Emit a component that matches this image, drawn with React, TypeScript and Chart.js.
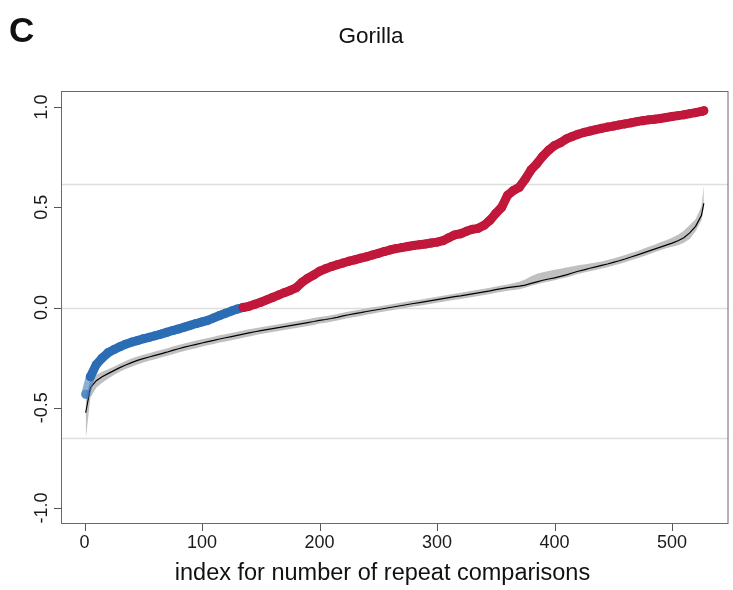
import { useEffect, useRef } from "react";
import { Chart, registerables } from "chart.js";

Chart.register(...registerables);

// Text
const panelLabel = "C";
const chartTitle = "Gorilla";
const xAxisTitle = "index for number of repeat comparisons";

// Axes
const xTickValues = [0, 100, 200, 300, 400, 500];
const yTickValues = [-1, -0.5, 0, 0.5, 1];
const xRange = [-20, 548];
const yRange = [-1.08, 1.08];

// Light horizontal reference levels
const referenceLevels = [0.617, 0, -0.652];

// Sorted comparison index (sampled every 5th comparison, plus first and last)
const repeatIndex = [1, ...Array.from({ length: 105 }, (_, i) => (i + 1) * 5), 527];

// Observed correlation for each comparison
const observed = [
  -0.433, -0.345, -0.285, -0.252, -0.226, -0.21, -0.196, -0.183, -0.173, -0.165,
  -0.156, -0.149, -0.141, -0.133, -0.124, -0.115, -0.107, -0.098, -0.089, -0.08,
  -0.072, -0.064, -0.052, -0.04, -0.029, -0.018, -0.008, 0.0, 0.006, 0.016,
  0.026, 0.038, 0.05, 0.062, 0.074, 0.085, 0.098, 0.125, 0.146, 0.162,
  0.181, 0.193, 0.204, 0.213, 0.222, 0.231, 0.238, 0.246, 0.253, 0.262,
  0.27, 0.279, 0.287, 0.294, 0.299, 0.304, 0.309, 0.313, 0.317, 0.322,
  0.326, 0.333, 0.348, 0.362, 0.368, 0.38, 0.39, 0.395, 0.41, 0.435,
  0.47, 0.5, 0.56, 0.584, 0.6, 0.64, 0.687, 0.718, 0.755, 0.785,
  0.808, 0.822, 0.841, 0.853, 0.864, 0.873, 0.88, 0.887, 0.894, 0.9,
  0.905, 0.911, 0.916, 0.921, 0.927, 0.932, 0.936, 0.939, 0.943, 0.948,
  0.953, 0.957, 0.961, 0.967, 0.972, 0.978, 0.982,
];

// Mean of the permuted (null) correlations
const nullMean = [
  -0.525, -0.4, -0.365, -0.345, -0.33, -0.315, -0.3, -0.287, -0.275, -0.264,
  -0.255, -0.247, -0.239, -0.231, -0.223, -0.214, -0.206, -0.198, -0.191, -0.184,
  -0.177, -0.17, -0.164, -0.157, -0.151, -0.145, -0.139, -0.133, -0.127, -0.121,
  -0.115, -0.11, -0.105, -0.1, -0.095, -0.09, -0.085, -0.08, -0.075, -0.07,
  -0.064, -0.06, -0.055, -0.049, -0.042, -0.036, -0.031, -0.026, -0.02, -0.015,
  -0.01, -0.005, 0.0, 0.005, 0.01, 0.015, 0.02, 0.024, 0.029, 0.034,
  0.039, 0.044, 0.049, 0.054, 0.058, 0.063, 0.068, 0.073, 0.078, 0.083,
  0.089, 0.094, 0.099, 0.103, 0.107, 0.112, 0.12, 0.128, 0.136, 0.142,
  0.148, 0.155, 0.163, 0.172, 0.181, 0.188, 0.196, 0.203, 0.21, 0.217,
  0.225, 0.233, 0.242, 0.252, 0.261, 0.271, 0.281, 0.291, 0.301, 0.311,
  0.321, 0.333, 0.348, 0.372, 0.405, 0.46, 0.52,
];

// Spread of the null distribution below and above its mean
const nullBelow = [
  0.135, 0.05, 0.035, 0.03, 0.025, 0.022, 0.02, 0.02, 0.02, 0.02,
  0.019, 0.019, 0.019, 0.019, 0.019, 0.019, 0.019, 0.019, 0.019, 0.019,
  0.018, 0.018, 0.018, 0.018, 0.018, 0.018, 0.018, 0.018, 0.018, 0.018,
  0.017, 0.017, 0.017, 0.017, 0.017, 0.017, 0.017, 0.017, 0.017, 0.017,
  0.016, 0.016, 0.016, 0.016, 0.016, 0.016, 0.016, 0.016, 0.016, 0.016,
  0.015, 0.015, 0.015, 0.015, 0.015, 0.015, 0.015, 0.015, 0.015, 0.015,
  0.015, 0.015, 0.015, 0.015, 0.015, 0.016, 0.016, 0.016, 0.016, 0.016,
  0.016, 0.016, 0.016, 0.016, 0.016, 0.014, 0.012, 0.012, 0.012, 0.012,
  0.012, 0.012, 0.013, 0.013, 0.014, 0.014, 0.015, 0.016, 0.016, 0.016,
  0.016, 0.016, 0.016, 0.016, 0.016, 0.016, 0.016, 0.016, 0.016, 0.016,
  0.018, 0.022, 0.025, 0.03, 0.025, 0.025, 0.025,
];
const nullAbove = [
  0.075, 0.04, 0.03, 0.025, 0.022, 0.02, 0.02, 0.02, 0.02, 0.02,
  0.019, 0.019, 0.019, 0.019, 0.019, 0.019, 0.019, 0.019, 0.019, 0.019,
  0.018, 0.018, 0.018, 0.018, 0.018, 0.018, 0.018, 0.018, 0.018, 0.018,
  0.017, 0.017, 0.017, 0.017, 0.017, 0.017, 0.017, 0.017, 0.017, 0.017,
  0.016, 0.016, 0.016, 0.016, 0.016, 0.016, 0.016, 0.016, 0.016, 0.016,
  0.015, 0.015, 0.015, 0.015, 0.015, 0.015, 0.015, 0.015, 0.015, 0.015,
  0.015, 0.015, 0.015, 0.015, 0.015, 0.016, 0.016, 0.016, 0.016, 0.016,
  0.016, 0.016, 0.016, 0.018, 0.022, 0.028, 0.036, 0.04, 0.04, 0.04,
  0.04, 0.038, 0.036, 0.033, 0.03, 0.027, 0.024, 0.022, 0.02, 0.02,
  0.02, 0.02, 0.02, 0.02, 0.02, 0.021, 0.022, 0.022, 0.024, 0.025,
  0.027, 0.03, 0.035, 0.04, 0.035, 0.045, 0.09,
];

const RED = "#C1173A";
const BLUE = "#2B6DB5";
const BLUE_SOFT = "rgba(43,109,181,0.55)";
const FONT = "'Liberation Sans', Arial, Helvetica, sans-serif";

const observedPoints = repeatIndex.map((x, i) => ({ x, y: observed[i] }));
const negativePoints = observedPoints.filter((p) => p.y <= 0);
const positivePoints = observedPoints.filter((p) => p.y >= 0);

// R-style frame, ticks, labels and reference lines
const basePlotDecor = {
  id: "basePlotDecor",
  beforeDatasetsDraw(chart: any) {
    const { ctx, chartArea: a, scales } = chart;
    ctx.save();
    ctx.strokeStyle = "#DEDEDE";
    ctx.lineWidth = 1.5;
    referenceLevels.forEach((v) => {
      const y = Math.round(scales.y.getPixelForValue(v)) + 0.5;
      ctx.beginPath();
      ctx.moveTo(a.left, y);
      ctx.lineTo(a.right, y);
      ctx.stroke();
    });
    ctx.restore();
  },
  afterDatasetsDraw(chart: any) {
    const { ctx, chartArea: a, scales } = chart;
    ctx.save();
    // frame
    ctx.strokeStyle = "#6A6A6A";
    ctx.lineWidth = 1;
    ctx.strokeRect(a.left + 0.5, a.top + 0.5, a.right - a.left - 1, a.bottom - a.top - 1);

    // tick marks
    ctx.strokeStyle = "#555";
    ctx.beginPath();
    xTickValues.forEach((v) => {
      const x = Math.round(scales.x.getPixelForValue(v)) + 0.5;
      ctx.moveTo(x, a.bottom);
      ctx.lineTo(x, a.bottom + 7);
    });
    yTickValues.forEach((v) => {
      const y = Math.round(scales.y.getPixelForValue(v)) + 0.5;
      ctx.moveTo(a.left, y);
      ctx.lineTo(a.left - 7, y);
    });
    ctx.stroke();

    ctx.fillStyle = "#1A1A1A";
    // x tick labels
    ctx.font = `18px ${FONT}`;
    ctx.textAlign = "center";
    ctx.textBaseline = "alphabetic";
    xTickValues.forEach((v) => {
      ctx.fillText(String(v), scales.x.getPixelForValue(v), 548);
    });
    // y tick labels, rotated
    yTickValues.forEach((v) => {
      ctx.save();
      ctx.translate(47, scales.y.getPixelForValue(v));
      ctx.rotate(-Math.PI / 2);
      ctx.fillText(v.toFixed(1), 0, 0);
      ctx.restore();
    });

    // axis title
    ctx.fillStyle = "#111";
    ctx.font = `23.5px ${FONT}`;
    ctx.fillText(xAxisTitle, 382.5, 580);

    // main title
    ctx.font = `22.5px ${FONT}`;
    ctx.fillText(chartTitle, 371, 43);

    // panel letter
    ctx.textAlign = "left";
    ctx.font = `bold 35px ${FONT}`;
    ctx.fillText(panelLabel, 9, 42);
    ctx.restore();
  },
};

export default function App() {
  const canvasRef = useRef<HTMLCanvasElement | null>(null);

  useEffect(() => {
    document.body.style.margin = "0";
    const canvas = canvasRef.current;
    if (!canvas) return;

    const chart = new Chart(canvas, {
      type: "line",
      data: {
        datasets: [
          {
            label: "null lower",
            data: repeatIndex.map((x, i) => ({ x, y: nullMean[i] - nullBelow[i] })),
            borderColor: "transparent",
            borderWidth: 0,
            pointRadius: 0,
            fill: false,
            order: 4,
          },
          {
            label: "null upper",
            data: repeatIndex.map((x, i) => ({ x, y: nullMean[i] + nullAbove[i] })),
            borderColor: "transparent",
            borderWidth: 0,
            pointRadius: 0,
            backgroundColor: "#C0C0C0",
            fill: "-1",
            order: 3,
          },
          {
            label: "null mean",
            data: repeatIndex.map((x, i) => ({ x, y: nullMean[i] })),
            borderColor: "#000000",
            borderWidth: 1.2,
            pointRadius: 0,
            fill: false,
            order: 2,
          },
          {
            label: "negative",
            data: negativePoints,
            borderColor: BLUE,
            borderWidth: 9,
            borderCapStyle: "round",
            borderJoinStyle: "round",
            pointRadius: 4.5,
            pointBorderWidth: 0,
            pointBackgroundColor: negativePoints.map((_, i) => (i === 0 ? BLUE_SOFT : BLUE)),
            segment: {
              borderColor: (c: any) => (c.p0DataIndex === 0 ? BLUE_SOFT : BLUE),
            },
            fill: false,
            order: 1,
          },
          {
            label: "positive",
            data: positivePoints,
            borderColor: RED,
            borderWidth: 9,
            borderCapStyle: "round",
            borderJoinStyle: "round",
            pointRadius: 4.5,
            pointBorderWidth: 0,
            pointBackgroundColor: RED,
            fill: false,
            order: 0,
          },
        ],
      },
      options: {
        responsive: false,
        animation: false,
        events: [],
        layout: { padding: { top: 91, right: 1, left: 0, bottom: 0 } },
        elements: { line: { tension: 0 } },
        plugins: {
          legend: { display: false },
          tooltip: { enabled: false },
          title: { display: false },
        },
        scales: {
          x: {
            type: "linear",
            min: xRange[0],
            max: xRange[1],
            grid: { display: false },
            border: { display: false },
            ticks: { display: false },
            afterFit: (s: any) => {
              s.height = 66;
            },
          },
          y: {
            type: "linear",
            min: yRange[0],
            max: yRange[1],
            grid: { display: false },
            border: { display: false },
            ticks: { display: false },
            afterFit: (s: any) => {
              s.width = 61;
            },
          },
        },
      },
      plugins: [basePlotDecor],
    } as any);

    return () => chart.destroy();
  }, []);

  return (
    <canvas
      ref={canvasRef}
      width={733}
      height={590}
      style={{ display: "block", width: 733, height: 590 }}
    />
  );
}
